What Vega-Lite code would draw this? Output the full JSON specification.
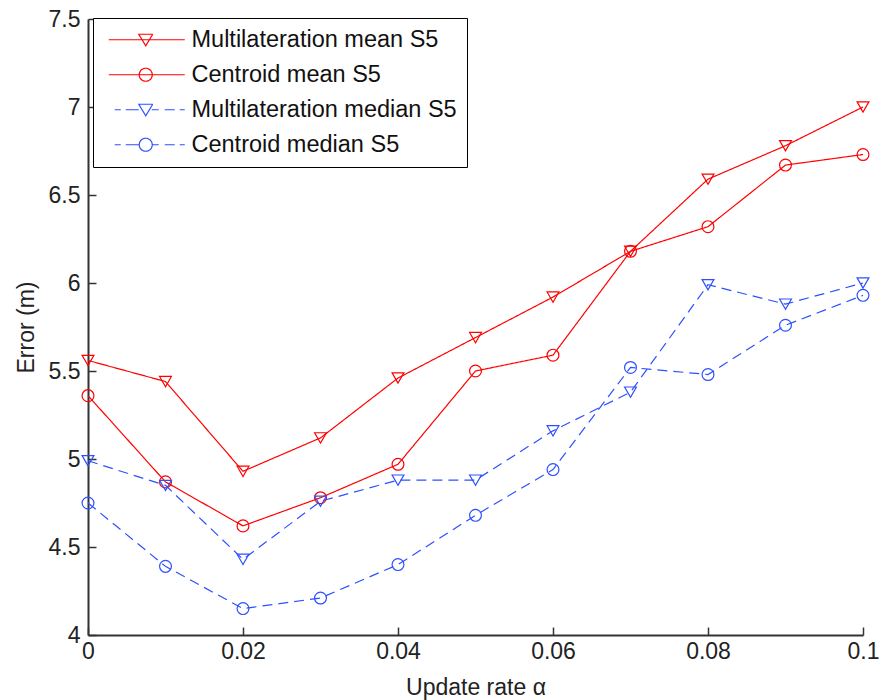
{
  "$schema": "https://vega.github.io/schema/vega-lite/v6.json",
  "autosize": "none",
  "width": 775,
  "height": 616,
  "padding": {"left": 88, "top": 19, "right": 18, "bottom": 65},
  "background": "white",
  "config": {
    "view": {"stroke": null},
    "font": "Liberation Sans",
    "axis": {
      "grid": false,
      "domainColor": "#333333",
      "domainWidth": 2,
      "tickColor": "#333333",
      "tickWidth": 1.5,
      "labelFont": "Liberation Sans",
      "labelFontSize": 23,
      "labelColor": "#222222",
      "labelFlush": false,
      "titleFont": "Liberation Sans",
      "titleFontSize": 23,
      "titleFontWeight": "normal",
      "titleColor": "#222222"
    },
    "legend": {
      "labelFont": "Liberation Sans",
      "labelFontSize": 23
    }
  },
  "data": {
    "values": [
      {"x": 0, "y": 5.56, "series": "Multilateration mean S5"},
      {"x": 0.01, "y": 5.44, "series": "Multilateration mean S5"},
      {"x": 0.02, "y": 4.93, "series": "Multilateration mean S5"},
      {"x": 0.03, "y": 5.12, "series": "Multilateration mean S5"},
      {"x": 0.04, "y": 5.46, "series": "Multilateration mean S5"},
      {"x": 0.05, "y": 5.69, "series": "Multilateration mean S5"},
      {"x": 0.06, "y": 5.92, "series": "Multilateration mean S5"},
      {"x": 0.07, "y": 6.18, "series": "Multilateration mean S5"},
      {"x": 0.08, "y": 6.59, "series": "Multilateration mean S5"},
      {"x": 0.09, "y": 6.78, "series": "Multilateration mean S5"},
      {"x": 0.1, "y": 7.0, "series": "Multilateration mean S5"},
      {"x": 0, "y": 5.36, "series": "Centroid mean S5"},
      {"x": 0.01, "y": 4.87, "series": "Centroid mean S5"},
      {"x": 0.02, "y": 4.62, "series": "Centroid mean S5"},
      {"x": 0.03, "y": 4.78, "series": "Centroid mean S5"},
      {"x": 0.04, "y": 4.97, "series": "Centroid mean S5"},
      {"x": 0.05, "y": 5.5, "series": "Centroid mean S5"},
      {"x": 0.06, "y": 5.59, "series": "Centroid mean S5"},
      {"x": 0.07, "y": 6.18, "series": "Centroid mean S5"},
      {"x": 0.08, "y": 6.32, "series": "Centroid mean S5"},
      {"x": 0.09, "y": 6.67, "series": "Centroid mean S5"},
      {"x": 0.1, "y": 6.73, "series": "Centroid mean S5"},
      {"x": 0, "y": 4.99, "series": "Multilateration median S5"},
      {"x": 0.01, "y": 4.85, "series": "Multilateration median S5"},
      {"x": 0.02, "y": 4.43, "series": "Multilateration median S5"},
      {"x": 0.03, "y": 4.76, "series": "Multilateration median S5"},
      {"x": 0.04, "y": 4.88, "series": "Multilateration median S5"},
      {"x": 0.05, "y": 4.88, "series": "Multilateration median S5"},
      {"x": 0.06, "y": 5.16, "series": "Multilateration median S5"},
      {"x": 0.07, "y": 5.38, "series": "Multilateration median S5"},
      {"x": 0.08, "y": 5.99, "series": "Multilateration median S5"},
      {"x": 0.09, "y": 5.88, "series": "Multilateration median S5"},
      {"x": 0.1, "y": 6.0, "series": "Multilateration median S5"},
      {"x": 0, "y": 4.75, "series": "Centroid median S5"},
      {"x": 0.01, "y": 4.39, "series": "Centroid median S5"},
      {"x": 0.02, "y": 4.15, "series": "Centroid median S5"},
      {"x": 0.03, "y": 4.21, "series": "Centroid median S5"},
      {"x": 0.04, "y": 4.4, "series": "Centroid median S5"},
      {"x": 0.05, "y": 4.68, "series": "Centroid median S5"},
      {"x": 0.06, "y": 4.94, "series": "Centroid median S5"},
      {"x": 0.07, "y": 5.52, "series": "Centroid median S5"},
      {"x": 0.08, "y": 5.48, "series": "Centroid median S5"},
      {"x": 0.09, "y": 5.76, "series": "Centroid median S5"},
      {"x": 0.1, "y": 5.93, "series": "Centroid median S5"}
    ]
  },
  "encoding": {
    "x": {
      "field": "x", "type": "quantitative",
      "scale": {"domain": [0, 0.1], "nice": false, "zero": false},
      "axis": {
        "title": "Update rate α",
        "values": [0, 0.02, 0.04, 0.06, 0.08, 0.1],
        "labelExpr": "datum.value + ''",
        "tickSize": -8,
        "labelPadding": 13,
        "titlePadding": 13
      }
    },
    "y": {
      "field": "y", "type": "quantitative",
      "scale": {"domain": [4, 7.5], "nice": false, "zero": false},
      "axis": {
        "title": "Error (m)",
        "values": [4, 4.5, 5, 5.5, 6, 6.5, 7, 7.5],
        "labelExpr": "datum.value + ''",
        "tickSize": -8,
        "labelPadding": 16,
        "titlePadding": 10
      }
    },
    "color": {
      "field": "series", "type": "nominal",
      "scale": {
        "domain": ["Multilateration mean S5", "Centroid mean S5", "Multilateration median S5", "Centroid median S5"],
        "range": ["#ff0000", "#ff0000", "#2c50ff", "#2c50ff"]
      },
      "legend": {
        "title": null,
        "orient": "none",
        "legendX": 5,
        "legendY": -1,
        "strokeColor": "#000000",
        "fillColor": "#ffffff",
        "cornerRadius": 0,
        "padding": 10,
        "rowPadding": 10,
        "labelOffset": 65,
        "labelFont": "Liberation Sans",
        "labelFontSize": 23.5,
        "labelColor": "#111111",
        "labelLimit": 400,
        "symbolSize": 400,
        "symbolStrokeWidth": 1.2,
        "symbolFillColor": "transparent",
        "symbolDash": [1, 0],
        "encode": {
          "symbols": {
            "update": {
              "fill": {"value": "transparent"},
              "strokeDash": {"value": [1, 0]},
              "shape": {"signal": "datum.value == 'Multilateration mean S5' ? 'M-0.6,0H7M2.4,-0.55H3.8L3.1,0.6Z' : datum.value == 'Centroid mean S5' ? 'M-0.6,0H7M2.45,0A0.65,0.65 0 1,0 3.75,0A0.65,0.65 0 1,0 2.45,0Z' : datum.value == 'Multilateration median S5' ? 'M0,0H0.6M1.1,0H2.4M2.4,-0.55H3.8L3.1,0.6ZM3.7,0H4.4M5,0H6M6.5,0H7' : 'M0,0H0.6M1.1,0H2.45M2.45,0A0.65,0.65 0 1,0 3.75,0A0.65,0.65 0 1,0 2.45,0ZM3.75,0H4.4M5,0H6M6.5,0H7'"}
            }
          }
        }
      }
    }
  },
  "layer": [
    {
      "mark": {"type": "line", "strokeWidth": 1.2},
      "encoding": {
        "strokeDash": {
          "condition": {"test": "indexof(datum.series, 'median') >= 0", "value": [10, 6]},
          "value": [1, 0]
        }
      }
    },
    {
      "mark": {"type": "point", "filled": false, "strokeWidth": 1.2, "size": 140, "opacity": 1},
      "encoding": {
        "shape": {
          "condition": {"test": "indexof(datum.series, 'Multilateration') >= 0", "value": "triangle-down"},
          "value": "circle"
        }
      }
    }
  ]
}
